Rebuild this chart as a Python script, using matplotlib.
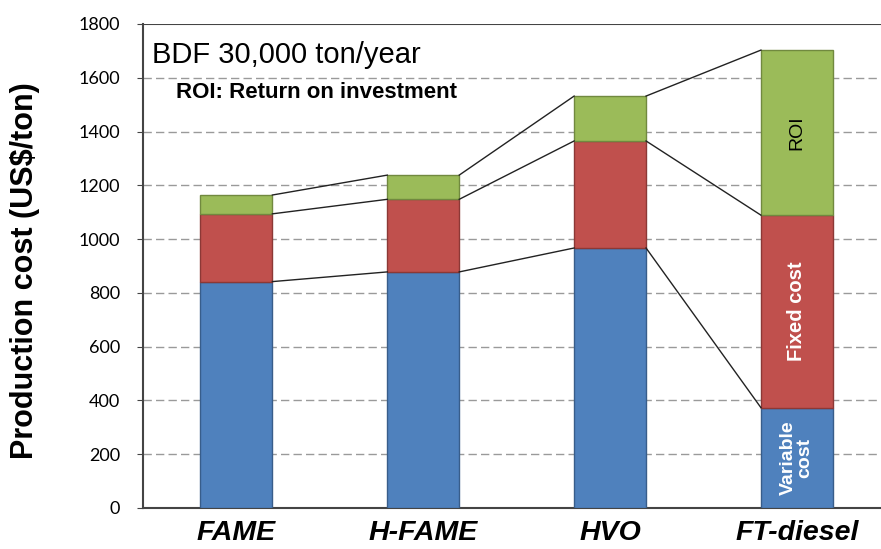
import numpy as np
import matplotlib
matplotlib.use("Agg")
import matplotlib.pyplot as plt

plt.rcParams['font.family'] = ['Liberation Sans', 'DejaVu Sans']

# data
fuels = ["FAME", "H-FAME", "HVO", "FT-diesel"]
variable_cost = [842, 878, 967, 373]
fixed_cost = [252, 270, 398, 716]
roi = [70, 90, 167, 614]

colors = ["#4F81BD", "#C0504D", "#9BBB59"]
edges = ["#385D8A", "#8C3836", "#71893F"]

x = np.arange(len(fuels))
width = 0.385

fig = plt.figure(figsize=(8.81, 5.49), dpi=100)
ax = fig.add_axes([143 / 881, 1 - 508 / 549, 738 / 881, 484 / 549])

bottom = np.zeros(len(fuels))
levels = []
for vals, c, ec in zip([variable_cost, fixed_cost, roi], colors, edges):
    ax.bar(x, vals, width, bottom=bottom, color=c, edgecolor=ec, linewidth=1, zorder=3)
    bottom = bottom + np.array(vals)
    levels.append(bottom.copy())

# connector lines between bar tops
for lev in levels:
    for i in range(len(fuels) - 1):
        ax.plot([x[i] + width / 2, x[i + 1] - width / 2], [lev[i], lev[i + 1]],
                color="#222222", lw=1, zorder=4)

ax.set_xlim(-0.5, 3.45)
ax.set_ylim(0, 1800)
ax.set_yticks(np.arange(0, 1801, 200))
ax.set_yticklabels([str(v) for v in range(0, 1801, 200)], fontsize=13, family="Lato")
for y in range(200, 1800, 200):
    ax.axhline(y, color="#9a9a9a", lw=1, ls=(0, (6, 3)), zorder=1)
ax.axhline(1800, color="#444444", lw=1.5, zorder=5)

ax.set_xticks(x)
ax.set_xticklabels(fuels, fontsize=20.5, fontweight="bold", fontstyle="italic")
ax.tick_params(axis="x", length=0, pad=9)
ax.tick_params(axis="y", length=4.3, direction="out", color="#444444", pad=12)
ax.spines["right"].set_visible(False)
ax.spines["top"].set_visible(False)
ax.spines["left"].set_color("#444444")
ax.spines["bottom"].set_color("#444444")
ax.spines["left"].set_linewidth(1.5)
ax.spines["bottom"].set_linewidth(1.5)

fig.text(25 / 881, 1 - 271 / 549, "Production cost (US$/ton)", rotation=90,
         fontsize=22, fontweight="bold", ha="center", va="center")

fig.text(152 / 881, 1 - 55 / 549, "BDF 30,000 ton/year", fontsize=21,
         va="center", ha="left")
fig.text(176 / 881, 1 - 92 / 549, "ROI: Return on investment", fontsize=16,
         fontweight="bold", va="center", ha="left")

# labels inside the FT-diesel bar
i = 3
ax.text(x[i], levels[1][i] + roi[i] / 2, "ROI", rotation=90, ha="center", va="center",
        fontsize=14, color="black", zorder=6)
ax.text(x[i], levels[0][i] + fixed_cost[i] / 2, "Fixed cost", rotation=90, ha="center",
        va="center", fontsize=14.5, fontweight="bold", color="white", zorder=6)
ax.text(x[i], variable_cost[i] / 2, "Variable\ncost", rotation=90, ha="center",
        va="center", fontsize=14, fontweight="bold", color="white", zorder=6,
        linespacing=0.95)

fig.savefig("out.png", dpi=100)
